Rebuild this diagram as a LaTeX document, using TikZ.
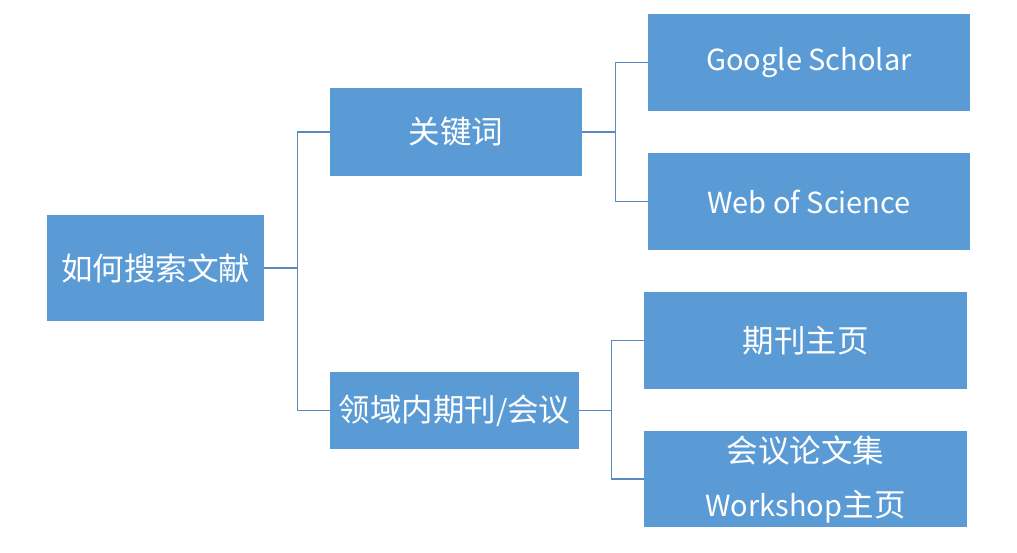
\documentclass[tikz,border=0pt]{standalone}
\usepackage{fontspec}
\setmainfont{Noto Sans CJK SC}
\definecolor{boxfill}{HTML}{5B9BD5}
\definecolor{linec}{HTML}{5A8AC0}
\newcommand{\lat}[1]{{\fontsize{29}{54}\selectfont #1}}
\begin{document}
\begin{tikzpicture}[x=1pt,y=-1pt,
  box/.style={fill=boxfill,draw=none,text=white,inner sep=0pt,align=center,
    font=\fontsize{31.5}{54}\selectfont},
  conn/.style={draw=linec,line width=1.3pt}]
\useasboundingbox (0,0) rectangle (1017,552);
\node[box,minimum width=217pt,minimum height=106pt] (root) at (155.5,268) {如何搜索文献};
\node[box,minimum width=252pt,minimum height=88pt] (kw) at (456,132) {关键词};
\node[box,minimum width=322pt,minimum height=97pt] (gs) at (809,62.5) {\lat{Google Scholar}};
\node[box,minimum width=322pt,minimum height=97pt] (wos) at (809,201.5) {\lat{Web of Science}};
\node[box,minimum width=249pt,minimum height=77pt] (field) at (454.5,410.5) {领域内期刊\lat{/}会议};
\node[box,minimum width=323pt,minimum height=97pt] (jour) at (805.5,340.5) {期刊主页};
\node[box,minimum width=323pt,minimum height=96pt] (conf) at (805.5,479) {会议论文集\\\lat{Workshop}主页};
\draw[conn] (root.east) -- ++(33,0) coordinate (j1);
\draw[conn] (j1) |- (kw.west);
\draw[conn] (j1) |- (field.west);
\draw[conn] (kw.east) -- ++(33,0) coordinate (j2);
\draw[conn] (j2) |- (gs.west);
\draw[conn] (j2) |- (wos.west);
\draw[conn] (field.east) -- ++(32,0) coordinate (j3);
\draw[conn] (j3) |- (jour.west);
\draw[conn] (j3) |- (conf.west);
\end{tikzpicture}
\end{document}
